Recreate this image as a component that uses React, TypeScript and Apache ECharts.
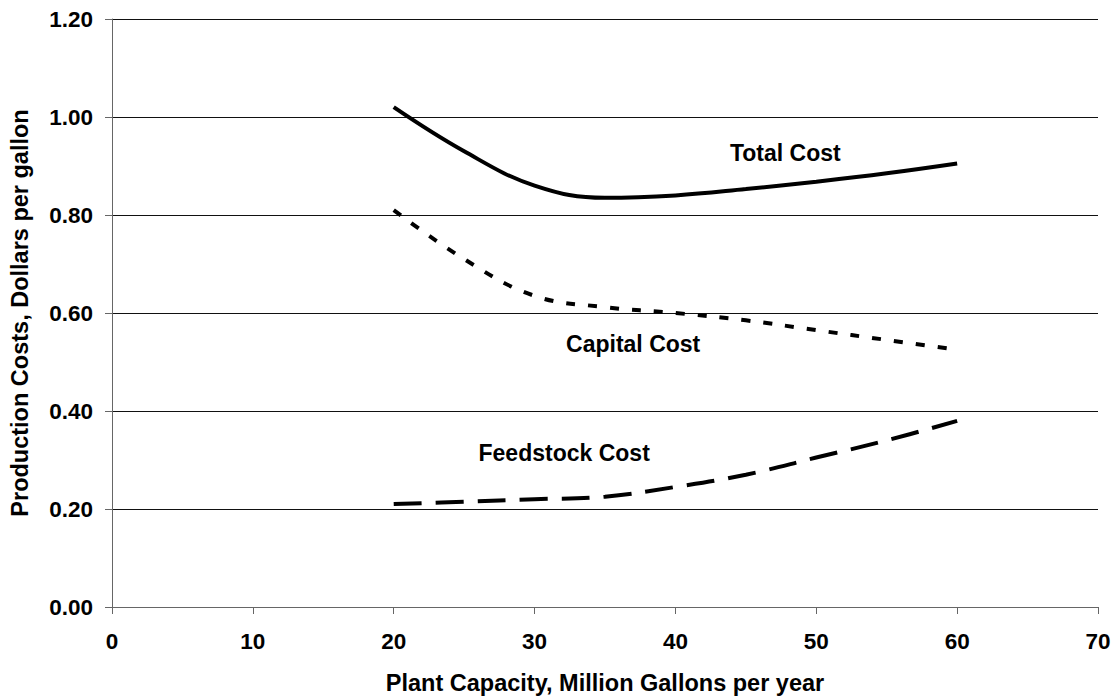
import React, { useEffect, useRef } from "react";
import * as echarts from "echarts";

const capacity = [20, 25, 30, 35, 40, 45, 50, 55, 60];
const totalCost = [1.02, 0.93, 0.86, 0.835, 0.84, 0.853, 0.868, 0.885, 0.905];
const capitalCost = [0.81, 0.71, 0.635, 0.612, 0.6, 0.585, 0.565, 0.545, 0.525];
const feedstockCost = [0.21, 0.215, 0.22, 0.225, 0.245, 0.27, 0.305, 0.34, 0.38];

const labelNames = ["Total Cost", "Capital Cost", "Feedstock Cost"];
const labelX = [47.8, 37.0, 32.1];
const labelY = [0.926, 0.536, 0.314];

const xTitle = "Plant Capacity, Million Gallons per year";
const yTitle = "Production Costs, Dollars per gallon";

const FONT = "Liberation Sans, Arial, sans-serif";

export default function App() {
  const ref = useRef<HTMLDivElement>(null);
  useEffect(() => {
    if (!ref.current) return;
    const chart = echarts.init(ref.current, null, { renderer: "svg" });
    const pairs = (ys: number[]) => capacity.map((x, i) => [x, ys[i]]);
    const mkLabel = (i: number) => ({
      symbol: "circle",
      symbolSize: 0,
      silent: true,
      data: [
        {
          coord: [labelX[i], labelY[i]],
          label: {
            show: true,
            position: "inside",
            formatter: labelNames[i],
            color: "#000",
            fontWeight: "bold",
            fontSize: 23,
            fontFamily: FONT,
          },
        },
      ],
    });
    chart.setOption({
      animation: false,
      backgroundColor: "#fff",
      grid: { left: 107, right: 19, top: 19, bottom: 91, containLabel: false },
      xAxis: {
        type: "value",
        min: 0,
        max: 70,
        interval: 10,
        name: xTitle,
        nameLocation: "middle",
        nameGap: 64,
        nameTextStyle: { color: "#000", fontWeight: "bold", fontSize: 23.5, fontFamily: FONT },
        axisLine: { show: true, lineStyle: { color: "#666", width: 1 } },
        axisTick: { show: true, inside: false, length: 7, lineStyle: { color: "#666" } },
        axisLabel: { color: "#000", fontWeight: "bold", fontSize: 22.5, fontFamily: FONT, margin: 23 },
        splitLine: { show: false },
      },
      yAxis: {
        type: "value",
        min: 0,
        max: 1.2,
        interval: 0.2,
        name: yTitle,
        nameLocation: "middle",
        nameGap: 80,
        nameRotate: 90,
        nameTextStyle: { color: "#000", fontWeight: "bold", fontSize: 23.5, fontFamily: FONT },
        axisLine: { show: true, lineStyle: { color: "#666", width: 1 } },
        axisTick: { show: true, inside: false, length: 7, lineStyle: { color: "#666" } },
        axisLabel: {
          color: "#000",
          fontWeight: "bold",
          fontSize: 22.5,
          fontFamily: FONT,
          margin: 19,
          formatter: (v: number) => v.toFixed(2),
        },
        splitLine: { show: true, lineStyle: { color: "#111", width: 1 } },
      },
      series: [
        {
          type: "line",
          name: "Total Cost",
          data: pairs(totalCost),
          smooth: 0.4,
          showSymbol: false,
          lineStyle: { color: "#000", width: 4, type: "solid" },
          markPoint: mkLabel(0),
        },
        {
          type: "line",
          name: "Capital Cost",
          data: pairs(capitalCost),
          smooth: 0.4,
          showSymbol: false,
          lineStyle: { color: "#000", width: 4, type: [9, 13] },
          markPoint: mkLabel(1),
        },
        {
          type: "line",
          name: "Feedstock Cost",
          data: pairs(feedstockCost),
          smooth: 0.4,
          showSymbol: false,
          lineStyle: { color: "#000", width: 4, type: [28, 14] },
          markPoint: mkLabel(2),
        },
      ],
    });
    return () => chart.dispose();
  }, []);
  return <div ref={ref} style={{ width: 1117, height: 700, position: "absolute", left: 0, top: 0 }} />;
}
